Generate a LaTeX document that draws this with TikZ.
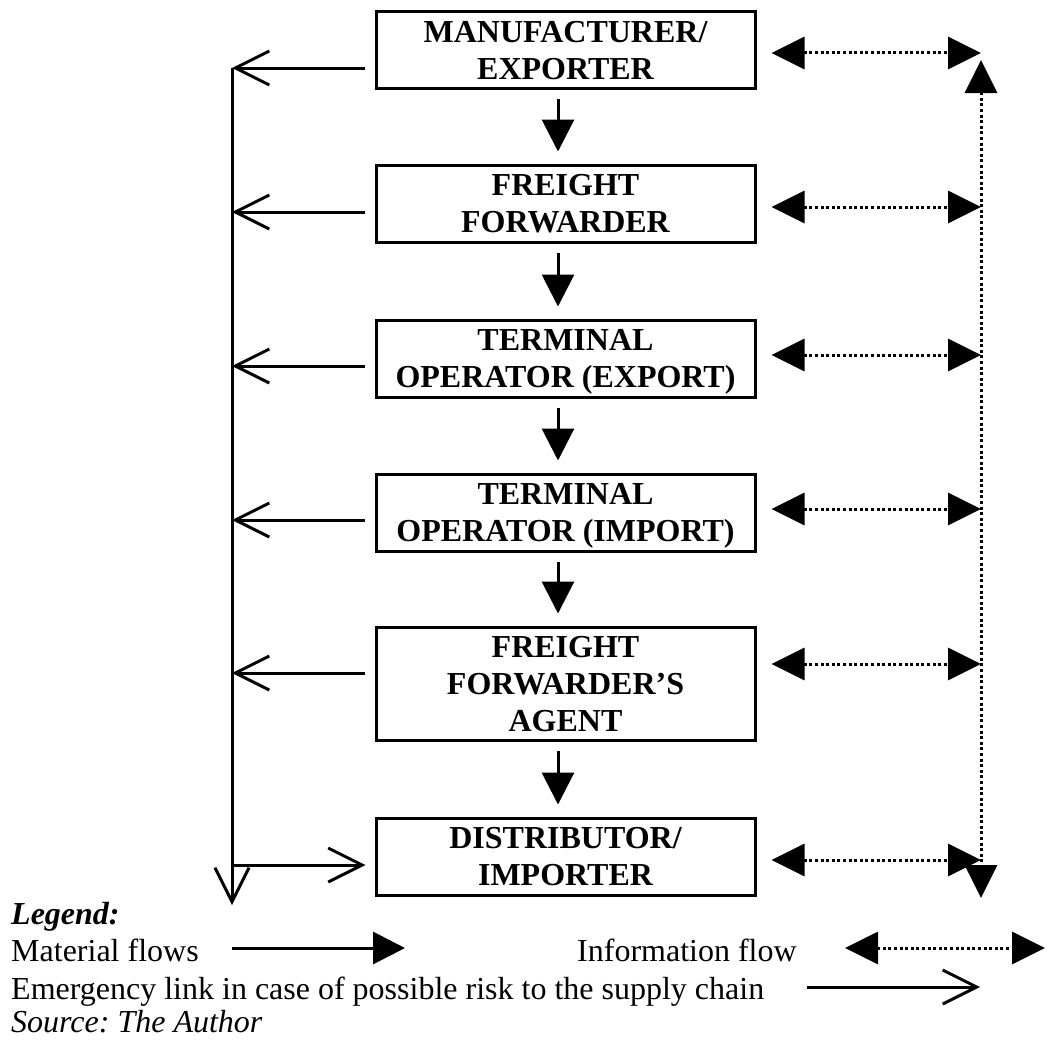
\documentclass[tikz,border=0pt]{standalone}
\usepackage{fontspec}
\setmainfont{Liberation Serif}
\usetikzlibrary{arrows.meta,calc}
\frenchspacing
\begin{document}
\begin{tikzpicture}[x=1pt,y=-1pt,
  box/.style={draw, line width=3pt, minimum width=379pt, inner sep=0pt,
    text depth=-3pt, align=center, font=\fontsize{32}{37}\selectfont\bfseries},
  matflow/.style={line width=3pt, -{Triangle[length=32pt,width=32pt]}},
  infoflow/.style={line width=3pt, dash pattern=on 3pt off 2.6pt,
    {Triangle[length=33pt,width=32pt]}-{Triangle[length=33pt,width=32pt]}},
  emerg/.style={line width=3pt, -{Straight Barb[length=34pt,width=34pt]}},
  spine/.style={line width=3pt},
  legend/.style={anchor=base west, inner sep=0pt, font=\fontsize{32}{37}\selectfont}]
\useasboundingbox (0,0) rectangle (1048,1041);

% chain of actors
\node[box, minimum height=76pt] (b1) at (565.5,50)    {MANUFACTURER/\\EXPORTER};
\node[box, minimum height=77pt] (b2) at (565.5,203.5) {FREIGHT\\FORWARDER};
\node[box, minimum height=77pt] (b3) at (565.5,358.5) {TERMINAL\\OPERATOR (EXPORT)};
\node[box, minimum height=77pt] (b4) at (565.5,512.5) {TERMINAL\\OPERATOR (IMPORT)};
\node[box, minimum height=113pt] (b5) at (565.5,683.5) {FREIGHT\\FORWARDER’S\\AGENT};
\node[box, minimum height=77pt] (b6) at (565.5,856.5) {DISTRIBUTOR/\\IMPORTER};

% material flows
\foreach \a/\b in {b1/b2,b2/b3,b3/b4,b4/b5,b5/b6}
  \draw[matflow] ($(\a.south)+(-7.5,9)$) -- ($(\b.north)+(-7.5,-12)$);

% emergency links along the left spine
\coordinate (sT) at (232,68);
\coordinate (sB) at (232,905);
\draw[spine, -{Straight Barb[length=34pt,width=34pt]}] (sT) -- (sB);
\draw[emerg] ($(b1.west|-sT)+(-10,0)$) -- (sT);
\draw[emerg] ($(b2.west)+(-10,8.5)$) coordinate (e2) -- (e2 -| sT);
\draw[emerg] ($(b3.west|-0,366)+(-10,0)$) coordinate (e3) -- (e3 -| sT);
\draw[emerg] ($(b4.west|-0,520)+(-10,0)$) coordinate (e4) -- (e4 -| sT);
\draw[emerg] ($(b5.west|-0,673)+(-10,0)$) coordinate (e5) -- (e5 -| sT);
\coordinate (e6) at ($(b6.west)+(-9,8.5)$);
\draw[emerg] (e6 -| sT) -- (e6);

% information flows on the right
\coordinate (iT) at (981,60);
\coordinate (iB) at (981,898);
\draw[infoflow] (iT) -- (iB);
\draw[infoflow] ($(b1.east)+(15,3)$) coordinate (i1) -- (i1 -| iT);
\draw[infoflow] ($(b2.east)+(15,3.5)$) coordinate (i2) -- (i2 -| iT);
\draw[infoflow] ($(b3.east|-0,355)+(15,0)$) coordinate (i3) -- (i3 -| iT);
\draw[infoflow] ($(b4.east|-0,509)+(15,0)$) coordinate (i4) -- (i4 -| iT);
\draw[infoflow] ($(b5.east|-0,664)+(15,0)$) coordinate (i5) -- (i5 -| iT);
\draw[infoflow] ($(b6.east)+(15,3.5)$) coordinate (i6) -- (i6 -| iT);

% legend
\node[legend] (lg) at (11,924) {\bfseries\itshape Legend:};
\node[legend] (lm) at (11,961) {Material flows};
\node[legend] (li) at (577,961) {Information flow};
\node[legend] (le) at (11,999) {Emergency link in case of possible risk to the supply chain};
\node[legend] (ls) at (11,1032) {\itshape Source: The Author};
\coordinate (lmA) at (232,948);
\coordinate (lmB) at (405,948);
\coordinate (liA) at (845,948);
\coordinate (liB) at (1045,948);
\coordinate (leA) at (807,987);
\coordinate (leB) at (980,987);
\draw[matflow] (lmA) -- (lmB);
\draw[infoflow] (liA) -- (liB);
\draw[emerg] (leA) -- (leB);
\end{tikzpicture}
\end{document}
